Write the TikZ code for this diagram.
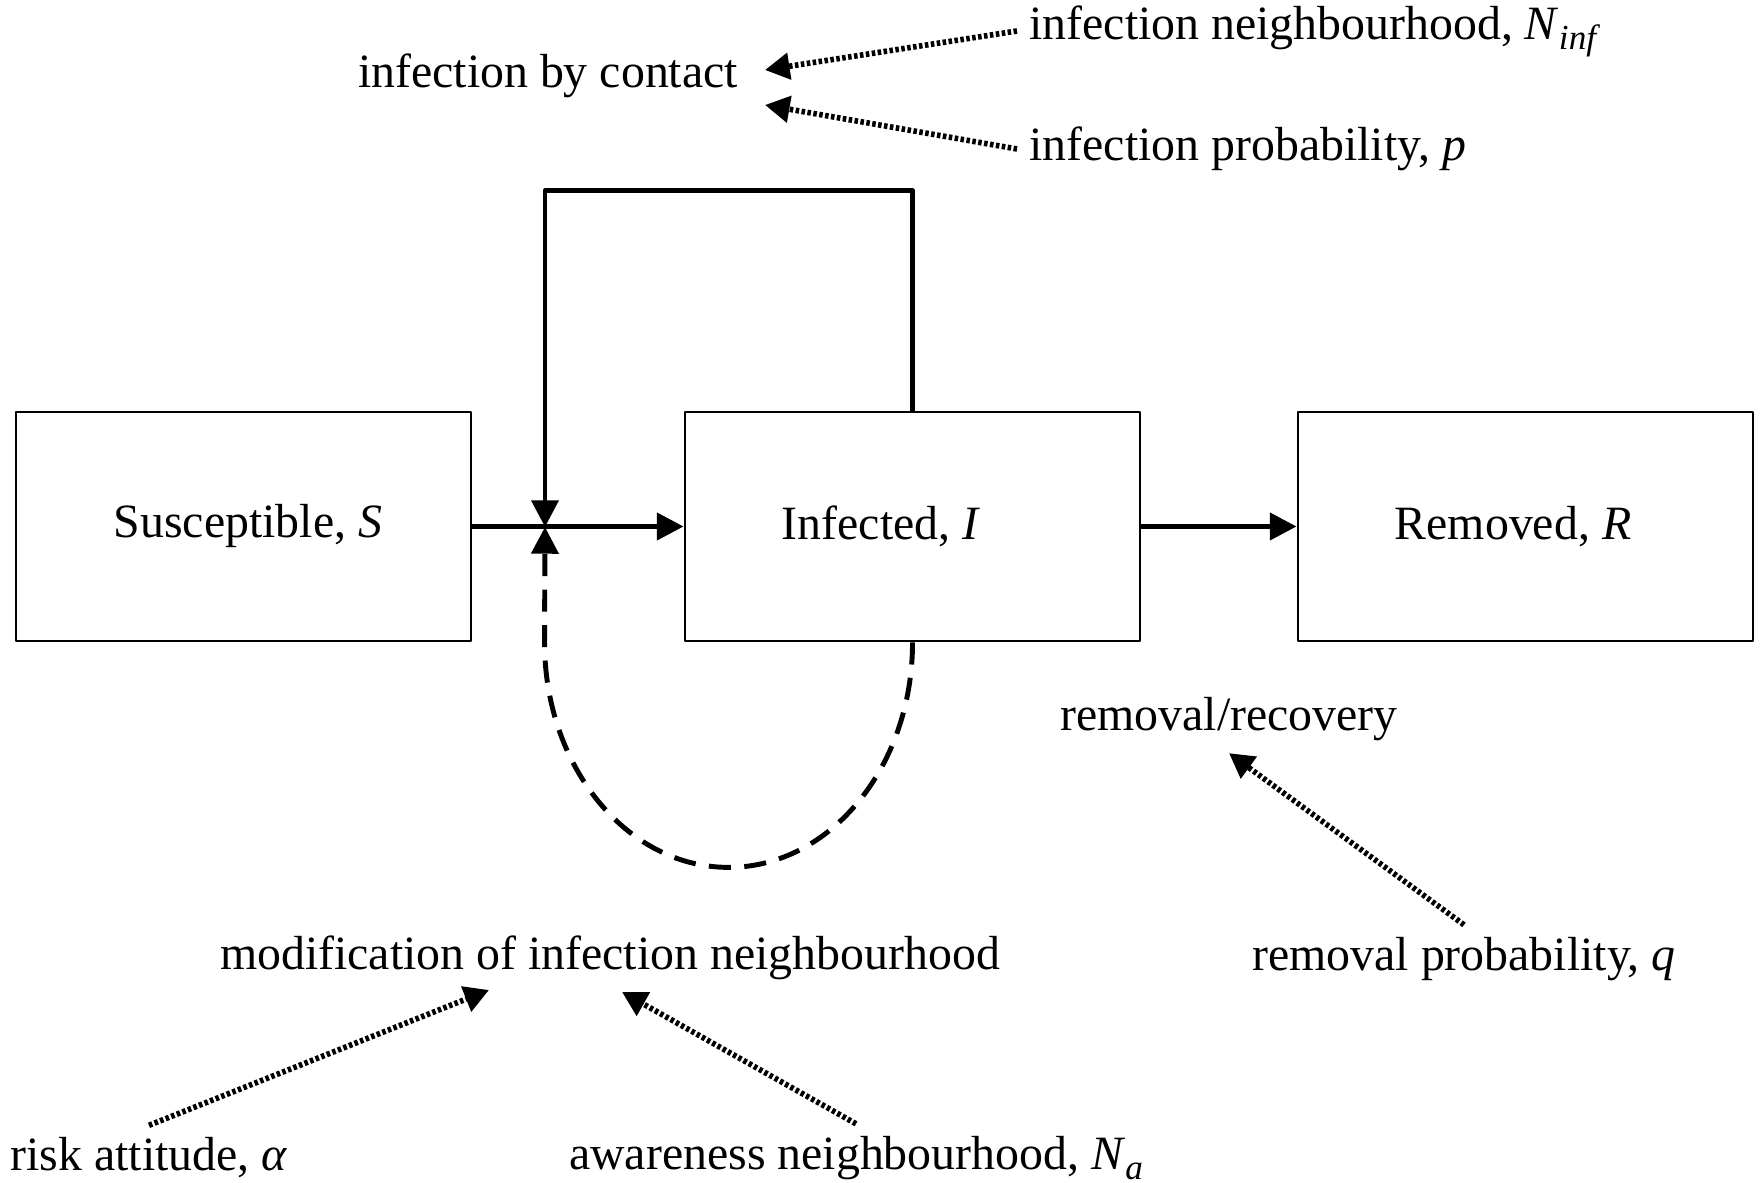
\documentclass[tikz,border=0pt]{standalone}
\usepackage{fontspec}
\setmainfont{Liberation Serif}
\usetikzlibrary{positioning,arrows.meta}
\newcommand{\lowidx}[1]{\raisebox{-0.45ex}{\fontsize{10}{10}\selectfont\textit{#1}}}

\begin{document}
\begin{tikzpicture}[x=0.01cm, y=0.01cm, line join=round, font=\fontsize{13.6}{16}\selectfont,
  >={Triangle[length=7.6pt,width=7.6pt]}]
  \tikzset{state/.style={draw, line width=0.75pt, minimum width=4.55cm, minimum height=2.29cm, inner sep=0pt},
    flow/.style={->, line width=1.4pt},
    infl/.style={->, line width=1.6pt, dash pattern=on 1pt off 0.7pt, >={Triangle[length=7pt,width=7.4pt]}},
    feedback/.style={->, line width=1.4pt, dash pattern=on 6.3pt off 3.8pt}}
  \useasboundingbox (0,0) rectangle (1764,-1183);
  % compartments
  \node[state] (S) at (243.5,-526.5) {\kern0.09cm Susceptible, \textit{S}};
  \node[state, right=2.11cm of S] (I) {Infected, \textit{I}\kern0.63cm};
  \node[state, right=1.55cm of I] (R) {Removed, \textit{R}\kern0.25cm};
  % labels
  \node (contact) at (548,-76) {infection by contact};
  \node[anchor=west] (nInf) at (1017,-31) {infection neighbourhood, \textit{N}\lowidx{inf}};
  \node[anchor=west] (pInf) at (1017,-149) {infection probability, \textit{p}};
  \node (recov) at (1229,-719) {removal/recovery};
  \node (rprob) at (1464,-959) {removal probability, \textit{q}};
  \node (modif) at (610,-958) {modification of infection neighbourhood};
  \node (risk) at (149,-1158) {risk attitude, \textit{α}};
  \node (aware) at (856,-1158) {awareness neighbourhood, \textit{N}\lowidx{a}};
  % arrow ends
  \coordinate (jn) at (545,-527);
  \coordinate (cA) at (765,-70);
  \coordinate (cB) at (765,-105);
  \coordinate (mA) at (489,-990);
  \coordinate (mB) at (622,-992);
  % flows
  \draw[flow] (S.east) -- (I.west);
  \draw[flow] (I.east) -- (R.west);
  \draw[flow] (I.north) -- ++(0,220) -| (jn);
  \draw[feedback] (I.south) arc[start angle=0, end angle=-180, x radius=184, y radius=225] -- (jn);
  % influences
  \draw[infl] (nInf.west) -- (cA);
  \draw[infl] (pInf.west) -- (cB);
  \draw[infl] (rprob.north) -- (recov.south);
  \draw[infl] (risk.north) -- (mA);
  \draw[infl] (aware.north) -- (mB);
\end{tikzpicture}
\end{document}
